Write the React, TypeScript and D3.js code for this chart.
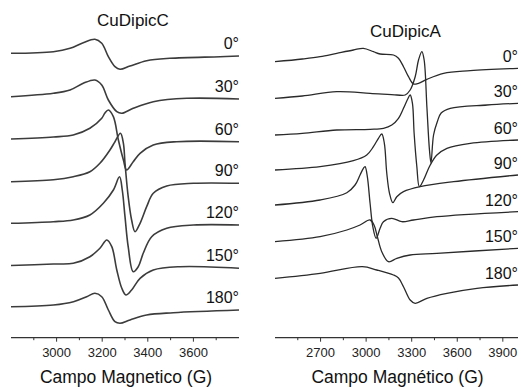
import React from 'react'
import * as d3 from 'd3'

// angle labels shared by both panels
const angles = ['0°', '30°', '60°', '90°', '120°', '150°', '180°']

// CuDipicC spectra: [field (G), intensity (a.u.)]
const c0 = [[2800, 0], [2986, 1.6], [3059, 5], [3117, 10.6], [3168, 14], [3198, 10], [3227, -3.4], [3256, -13.4], [3278, -16], [3322, -12.7], [3395, -7.4], [3497, -5], [3717, -3.4], [3800, -2.7]]
const c30 = [[2800, 0], [2986, 3.4], [3059, 6.7], [3117, 13.4], [3168, 16.7], [3198, 11.7], [3227, -3.3], [3264, -15], [3286, -16.6], [3336, -11.6], [3424, -5], [3571, -1.6], [3800, -2.3]]
const c60 = [[2800, 0], [2986, 2], [3073, 4], [3146, 10.7], [3198, 20.7], [3212, 26], [3227, 29], [3249, 22.3], [3271, -1], [3293, -21], [3307, -31], [3336, -22.7], [3366, -14.3], [3424, -6], [3527, -2.7], [3800, -2.7]]
const c90 = [[2800, 0], [2986, 2], [3073, 5], [3146, 10], [3190, 18.4], [3234, 31.7], [3256, 40], [3280, 48.4], [3293, 38.4], [3300, 18.4], [3314, -15], [3329, -38.3], [3344, -50], [3366, -41.6], [3395, -25], [3424, -11.6], [3483, -4.3], [3600, -1.6], [3800, -1.6]]
const c120 = [[2800, 0], [2986, 1.6], [3073, 3.3], [3146, 8.3], [3205, 20], [3249, 33.3], [3276, 46.5], [3288, 33.3], [3300, 6.6], [3314, -23.4], [3336, -48.4], [3358, -43.4], [3380, -30], [3417, -13.4], [3483, -5], [3600, -1.7], [3800, -1.7]]
const c150 = [[2800, 0], [2986, 1.5], [3073, 2.2], [3146, 8.8], [3190, 17.2], [3220, 25.5], [3242, 18.8], [3264, -4.5], [3286, -22.8], [3304, -29.5], [3329, -24.5], [3366, -12.8], [3424, -4.5], [3541, -1.2], [3800, -2.8]]
const c180 = [[2800, 0], [2986, 1.7], [3074, 5], [3132, 10], [3168, 13.4], [3198, 10], [3227, -3.3], [3256, -15], [3278, -16.6], [3322, -13.3], [3395, -8.3], [3512, -6], [3800, -3.3]]

// CuDipicA spectra
const a0 = [[2400, 0], [2580, 2.7], [2697, 5], [2807, 8.4], [2916, 11.7], [2982, 13.4], [3048, 10], [3092, 7.7], [3180, 6.7], [3213, 3.4], [3246, -5], [3279, -15], [3312, -22.3], [3345, -21.6], [3400, -17.6], [3510, -11.6], [3686, -9], [4000, -6.6]]
const a30 = [[2400, 0], [2580, 2.3], [2807, 6.6], [3026, 5], [3202, 3.3], [3257, 3.3], [3290, 8.3], [3323, 21.6], [3345, 38.3], [3367, 46.6], [3382, 38.3], [3400, -8.4], [3417, -51.7], [3427, -64.4], [3444, -36.7], [3468, -23.7], [3494, -14.7], [3554, -10], [3796, -6.7], [4000, -5]]
const a60 = [[2400, 0], [2580, 1.7], [2807, 5], [3026, 5.7], [3114, 6.7], [3169, 10], [3213, 16.7], [3246, 26.7], [3273, 35.7], [3290, 40], [3305, 31.7], [3316, 1.7], [3334, -31.7], [3351, -51.7], [3378, -45], [3422, -30], [3466, -20], [3532, -13.3], [3686, -8.3], [4000, -5]]
const a90 = [[2400, 0], [2697, 3.3], [2916, 9.3], [3004, 15], [3048, 23.3], [3081, 31.7], [3103, 36], [3120, 26.7], [3136, -3.3], [3154, -23.3], [3176, -32.7], [3202, -26.7], [3246, -21.7], [3356, -16.7], [3576, -11.7], [4000, -5]]
const a120 = [[2400, 0], [2697, 5], [2873, 12.3], [2927, 20], [2960, 30], [2982, 36.7], [2993, 38.3], [3008, 28.3], [3026, 1.7], [3044, -21.7], [3066, -33.3], [3092, -23.3], [3114, -16.7], [3169, -13.3], [3235, -16.7], [3312, -15], [3466, -11.7], [4000, -6.7]]
const a150 = [[2400, 0], [2697, 5], [2873, 11.7], [2960, 16.7], [3026, 21.7], [3052, 16.7], [3074, 5], [3103, -10], [3147, -20], [3202, -16.6], [3290, -13.3], [3466, -11.6], [4000, -6.6]]
const a180 = [[2400, 0], [2697, 5], [2975, 11.6], [3070, 8.3], [3180, 3.3], [3213, 0.3], [3246, -8.4], [3290, -21.7], [3323, -25], [3400, -20], [3532, -15], [3730, -10], [4000, -6.7]]

// vertical stacking offsets (a.u.)
const offsetsC = [286.7, 243.3, 201, 158.3, 116.7, 74.5, 33.3]
const offsetsA = [278.3, 241.7, 205, 170, 135, 98.3, 61.7]

const ticksC = [3000, 3200, 3400, 3600]
const minorC = [2900, 3100, 3300, 3500, 3700]
const ticksA = [2700, 3000, 3300, 3600, 3900]
const minorA = [2550, 2850, 3150, 3450, 3750]

const spectraC = [c0, c30, c60, c90, c120, c150, c180]
const spectraA = [a0, a30, a60, a90, a120, a150, a180]

const font = 'Liberation Sans, Arial, sans-serif'
const axisY = 337.7

function Panel({ spectra, offsets, domain, range, ticks, minor, title, titleY, xLabel, lineColor, lineWidth, labelGap }) {
  const x = d3.scaleLinear().domain(domain).range(range)
  const y = d3.scaleLinear().domain([0, 300]).range([340, 40])
  const cx = (range[0] + range[1]) / 2
  return (
    <g fontFamily={font}>
      <text x={title.x} y={titleY} fontSize={17} textAnchor="middle" fill="#111">{title.text}</text>
      {spectra.map((s, i) => {
        const line = d3.line().x(d => x(d[0])).y(d => y(offsets[i] + d[1])).curve(d3.curveCatmullRom.alpha(0.5))
        const last = s[s.length - 1]
        return (
          <g key={i}>
            <path d={line(s)} fill="none" stroke={lineColor} strokeWidth={lineWidth} strokeLinejoin="round" />
            <text x={range[1]} y={y(offsets[i] + last[1]) - labelGap} fontSize={16} textAnchor="end" fill="#111">{angles[i]}</text>
          </g>
        )
      })}
      <line x1={range[0]} x2={range[1]} y1={axisY} y2={axisY} stroke="#333" strokeWidth={1.2} />
      {ticks.map(t => (
        <g key={t}>
          <line x1={x(t)} x2={x(t)} y1={axisY} y2={axisY + 4} stroke="#333" strokeWidth={1} />
          <text x={x(t)} y={357} fontSize={13} textAnchor="middle" fill="#222">{t}</text>
        </g>
      ))}
      {minor.map(t => (
        <line key={t} x1={x(t)} x2={x(t)} y1={axisY} y2={axisY + 2.5} stroke="#333" strokeWidth={1} />
      ))}
      <text x={cx + 1} y={383} fontSize={17.5} textAnchor="middle" fill="#111">{xLabel}</text>
    </g>
  )
}

export default function App() {
  return (
    <svg width={521} height={387} style={{ position: 'absolute', left: 0, top: 0, background: '#fff' }}>
      <rect width={521} height={387} fill="#fff" />
      <Panel
        spectra={spectraC}
        offsets={offsetsC}
        domain={[2800, 3800]}
        range={[11, 239]}
        ticks={ticksC}
        minor={minorC}
        title={{ text: 'CuDipicC', x: 133 }}
        titleY={26}
        xLabel="Campo Magnetico (G)"
        lineColor="#3c3c3c"
        lineWidth={1.6}
        labelGap={7}
      />
      <Panel
        spectra={spectraA}
        offsets={offsetsA}
        domain={[2400, 4000]}
        range={[275, 518]}
        ticks={ticksA}
        minor={minorA}
        title={{ text: 'CuDipicA', x: 405.5 }}
        titleY={37}
        xLabel="Campo Magnético (G)"
        lineColor="#2a2a2a"
        lineWidth={1.3}
        labelGap={6}
      />
    </svg>
  )
}
